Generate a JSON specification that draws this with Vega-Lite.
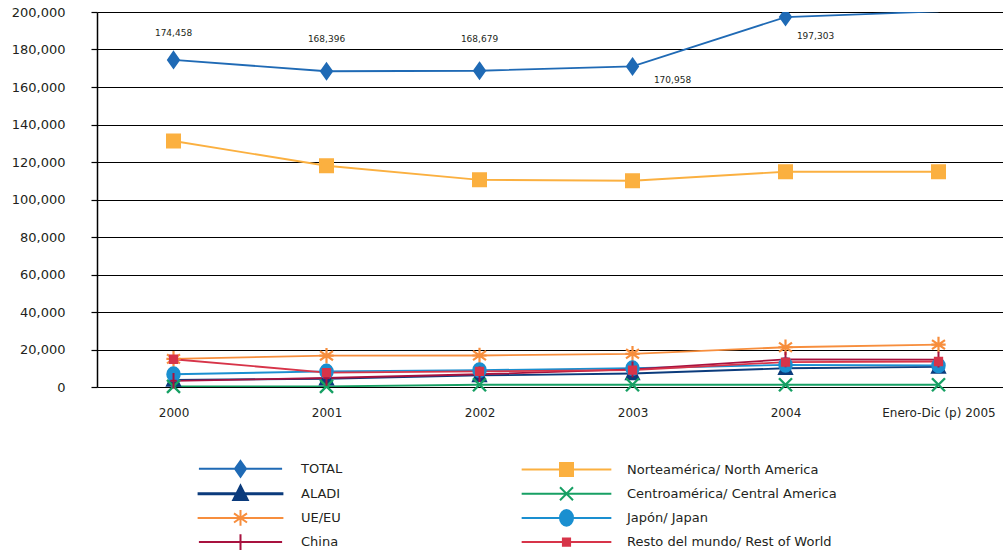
{
  "$schema": "https://vega.github.io/schema/vega-lite/v6.json",
  "width": 906,
  "height": 375,
  "autosize": {"type": "none"},
  "padding": {"left": 97, "top": 12, "right": 0, "bottom": 168},
  "background": "#ffffff",
  "config": {
    "view": {"stroke": null},
    "font": "DejaVu Sans",
    "text": {"font": "DejaVu Sans"}
  },
  "data": {
    "values": [
      {"periodo": "2000", "serie": "TOTAL", "valor": 174458},
      {"periodo": "2001", "serie": "TOTAL", "valor": 168396},
      {"periodo": "2002", "serie": "TOTAL", "valor": 168679},
      {"periodo": "2003", "serie": "TOTAL", "valor": 170958},
      {"periodo": "2004", "serie": "TOTAL", "valor": 197303},
      {"periodo": "Enero-Dic (p) 2005", "serie": "TOTAL", "valor": 200300},
      {"periodo": "2000", "serie": "Norteamérica/ North America", "valor": 131200},
      {"periodo": "2001", "serie": "Norteamérica/ North America", "valor": 118000},
      {"periodo": "2002", "serie": "Norteamérica/ North America", "valor": 110500},
      {"periodo": "2003", "serie": "Norteamérica/ North America", "valor": 110000},
      {"periodo": "2004", "serie": "Norteamérica/ North America", "valor": 114800},
      {"periodo": "Enero-Dic (p) 2005", "serie": "Norteamérica/ North America", "valor": 114800},
      {"periodo": "2000", "serie": "ALADI", "valor": 3800},
      {"periodo": "2001", "serie": "ALADI", "valor": 4400},
      {"periodo": "2002", "serie": "ALADI", "valor": 6200},
      {"periodo": "2003", "serie": "ALADI", "valor": 7200},
      {"periodo": "2004", "serie": "ALADI", "valor": 10000},
      {"periodo": "Enero-Dic (p) 2005", "serie": "ALADI", "valor": 10700},
      {"periodo": "2000", "serie": "Centroamérica/ Central America", "valor": 300},
      {"periodo": "2001", "serie": "Centroamérica/ Central America", "valor": 300},
      {"periodo": "2002", "serie": "Centroamérica/ Central America", "valor": 1200},
      {"periodo": "2003", "serie": "Centroamérica/ Central America", "valor": 1200},
      {"periodo": "2004", "serie": "Centroamérica/ Central America", "valor": 1200},
      {"periodo": "Enero-Dic (p) 2005", "serie": "Centroamérica/ Central America", "valor": 1200},
      {"periodo": "2000", "serie": "UE/EU", "valor": 15000},
      {"periodo": "2001", "serie": "UE/EU", "valor": 16700},
      {"periodo": "2002", "serie": "UE/EU", "valor": 16800},
      {"periodo": "2003", "serie": "UE/EU", "valor": 17700},
      {"periodo": "2004", "serie": "UE/EU", "valor": 21200},
      {"periodo": "Enero-Dic (p) 2005", "serie": "UE/EU", "valor": 22600},
      {"periodo": "2000", "serie": "Japón/ Japan", "valor": 6800},
      {"periodo": "2001", "serie": "Japón/ Japan", "valor": 8300},
      {"periodo": "2002", "serie": "Japón/ Japan", "valor": 9000},
      {"periodo": "2003", "serie": "Japón/ Japan", "valor": 10000},
      {"periodo": "2004", "serie": "Japón/ Japan", "valor": 11800},
      {"periodo": "Enero-Dic (p) 2005", "serie": "Japón/ Japan", "valor": 11500},
      {"periodo": "2000", "serie": "China", "valor": 3300},
      {"periodo": "2001", "serie": "China", "valor": 4800},
      {"periodo": "2002", "serie": "China", "valor": 6800},
      {"periodo": "2003", "serie": "China", "valor": 9400},
      {"periodo": "2004", "serie": "China", "valor": 14700},
      {"periodo": "Enero-Dic (p) 2005", "serie": "China", "valor": 14600},
      {"periodo": "2000", "serie": "Resto del mundo/ Rest of World", "valor": 14800},
      {"periodo": "2001", "serie": "Resto del mundo/ Rest of World", "valor": 7700},
      {"periodo": "2002", "serie": "Resto del mundo/ Rest of World", "valor": 8300},
      {"periodo": "2003", "serie": "Resto del mundo/ Rest of World", "valor": 9000},
      {"periodo": "2004", "serie": "Resto del mundo/ Rest of World", "valor": 13300},
      {"periodo": "Enero-Dic (p) 2005", "serie": "Resto del mundo/ Rest of World", "valor": 13600}
    ]
  },
  "encoding": {
    "x": {
      "field": "periodo", "type": "ordinal",
      "scale": {"type": "point", "domain": ["2000", "2001", "2002", "2003", "2004", "Enero-Dic (p) 2005"], "padding": 0.4608, "align": 0.5426},
      "axis": {"title": null, "labelAngle": 0, "domain": false, "ticks": false, "grid": false, "labelPadding": 20, "labelFont": "DejaVu Sans", "labelFontSize": 12, "labelColor": "#231f20"}
    },
    "y": {
      "field": "valor", "type": "quantitative",
      "scale": {"domain": [0, 200000], "nice": false},
      "axis": {"title": null, "values": [0, 20000, 40000, 60000, 80000, 100000, 120000, 140000, 160000, 180000, 200000], "format": ",d", "grid": true, "gridColor": "#000000", "gridWidth": 1.2, "gridOpacity": 1, "domain": true, "domainColor": "#000000", "domainWidth": 1.5, "ticks": true, "tickColor": "#000000", "tickSize": 6, "tickWidth": 1.2, "labelPadding": 26, "labelFont": "DejaVu Sans", "labelFontSize": 13, "labelColor": "#231f20"}
    }
  },
  "layer": [
    {
      "mark": {"type": "line", "strokeWidth": 1.8, "clip": true},
      "encoding": {
        "color": {
          "field": "serie", "type": "nominal",
          "scale": {
            "domain": ["TOTAL", "Norteamérica/ North America", "ALADI", "Centroamérica/ Central America", "UE/EU", "Japón/ Japan", "China", "Resto del mundo/ Rest of World"],
            "range": ["#1f6ab5", "#fbb040", "#0b3b7c", "#17a064", "#f78e3d", "#1a8fd0", "#a8123f", "#d73449"]
          },
          "legend": {
            "title": null,
            "orient": "none",
            "legendX": 137,
            "legendY": 450,
            "direction": "horizontal",
            "columns": 2,
            "columnPadding": 174,
            "rowPadding": -0.8,
            "symbolSize": 169,
            "labelOffset": 54,
            "labelFont": "DejaVu Sans",
            "labelFontSize": 13,
            "labelColor": "#231f20",
            "labelLimit": 400,
            "encode": {
              "symbols": {
                "update": {
                  "shape": {"signal": "datum.value==='TOTAL' ? 'M-6.4,0H6.4M0,-1.2L0.85,0L0,1.2L-0.85,0Z' : datum.value==='ALADI' ? 'M-6.6,0H6.6M0,-1.1L1,0.9H-1Z' : datum.value==='UE/EU' ? 'M-6.6,0H6.6M0,-1.2V1.2M-1,-0.7L1,0.7M-1,0.7L1,-0.7' : datum.value==='China' ? 'M-6.4,0H6.4M0,-1.2V1.2' : datum.value==='Norteamérica/ North America' ? 'M-6.9,0H6.9M-1,-1H1V1H-1Z' : datum.value==='Centroamérica/ Central America' ? 'M-6.9,0H6.9M-1,-1L1,1M-1,1L1,-1' : datum.value==='Japón/ Japan' ? 'M-6.9,0H6.9M1,0A1,1.2 0 1,1 -1,0A1,1.2 0 1,1 1,0Z' : 'M-6.9,0H6.9M-0.55,-0.55H0.55V0.55H-0.55Z'"},
                  "fill": {"scale": "color", "field": "value"},
                  "stroke": {"scale": "color", "field": "value"},
                  "strokeWidth": {"signal": "datum.value==='ALADI' ? 3 : 2"},
                  "opacity": {"value": 1},
                  "size": {"value": 169}
                }
              }
            }
          }
        }
      }
    },
    {
      "transform": [{"filter": "datum.serie === 'TOTAL' && datum.valor <= 200000"}],
      "mark": {"type": "point", "shape": "M0,-1.2L0.85,0L0,1.2L-0.85,0Z", "filled": true, "color": "#1f6ab5", "stroke": "#1f6ab5", "strokeWidth": 2, "size": 169, "opacity": 1, "clip": true}
    },
    {
      "transform": [{"filter": "datum.serie === 'Norteamérica/ North America'"}],
      "mark": {"type": "point", "shape": "M-1,-1H1V1H-1Z", "filled": true, "color": "#fbb040", "stroke": "#fbb040", "strokeWidth": 2, "size": 169, "opacity": 1}
    },
    {
      "transform": [{"filter": "datum.serie === 'ALADI'"}],
      "mark": {"type": "point", "shape": "M0,-1.1L1,0.9H-1Z", "filled": true, "color": "#0b3b7c", "stroke": "#0b3b7c", "strokeWidth": 2, "size": 169, "opacity": 1}
    },
    {
      "transform": [{"filter": "datum.serie === 'Centroamérica/ Central America'"}],
      "mark": {"type": "point", "shape": "M-1,-1L1,1M-1,1L1,-1", "filled": true, "color": "#17a064", "stroke": "#17a064", "strokeWidth": 2.4, "size": 169, "opacity": 1}
    },
    {
      "transform": [{"filter": "datum.serie === 'UE/EU'"}],
      "mark": {"type": "point", "shape": "M0,-1.2V1.2M-1.1,0H1.1M-1,-0.7L1,0.7M-1,0.7L1,-0.7", "filled": true, "color": "#f78e3d", "stroke": "#f78e3d", "strokeWidth": 2.2, "size": 169, "opacity": 1}
    },
    {
      "transform": [{"filter": "datum.serie === 'Japón/ Japan'"}],
      "mark": {"type": "point", "shape": "M1,0A1,1.1 0 1,1 -1,0A1,1.1 0 1,1 1,0Z", "filled": true, "color": "#1a8fd0", "stroke": "#1a8fd0", "strokeWidth": 1.5, "size": 169, "opacity": 1}
    },
    {
      "transform": [{"filter": "datum.serie === 'China'"}],
      "mark": {"type": "point", "shape": "M0,-1.2V1.2M-0.5,0H0.5", "filled": true, "color": "#a8123f", "stroke": "#a8123f", "strokeWidth": 2, "size": 169, "opacity": 1}
    },
    {
      "transform": [{"filter": "datum.serie === 'Resto del mundo/ Rest of World'"}],
      "mark": {"type": "point", "shape": "M-0.6,-0.6H0.6V0.6H-0.6Z", "filled": true, "color": "#d73449", "stroke": "#d73449", "strokeWidth": 1.5, "size": 169, "opacity": 1}
    },
    {
      "transform": [{"filter": "datum.serie === 'TOTAL' && datum.periodo === '2000'"}],
      "mark": {"type": "text", "dy": -27, "fontSize": 9, "color": "#231f20"},
      "encoding": {"text": {"field": "valor", "type": "quantitative", "format": ",d"}}
    },
    {
      "transform": [{"filter": "datum.serie === 'TOTAL' && (datum.periodo === '2001' || datum.periodo === '2002')"}],
      "mark": {"type": "text", "dy": -32, "fontSize": 9, "color": "#231f20"},
      "encoding": {"text": {"field": "valor", "type": "quantitative", "format": ",d"}}
    },
    {
      "transform": [{"filter": "datum.serie === 'TOTAL' && datum.periodo === '2003'"}],
      "mark": {"type": "text", "dx": 40, "dy": 14, "fontSize": 9, "color": "#231f20"},
      "encoding": {"text": {"field": "valor", "type": "quantitative", "format": ",d"}}
    },
    {
      "transform": [{"filter": "datum.serie === 'TOTAL' && datum.periodo === '2004'"}],
      "mark": {"type": "text", "dx": 30, "dy": 19, "fontSize": 9, "color": "#231f20"},
      "encoding": {"text": {"field": "valor", "type": "quantitative", "format": ",d"}}
    }
  ]
}
